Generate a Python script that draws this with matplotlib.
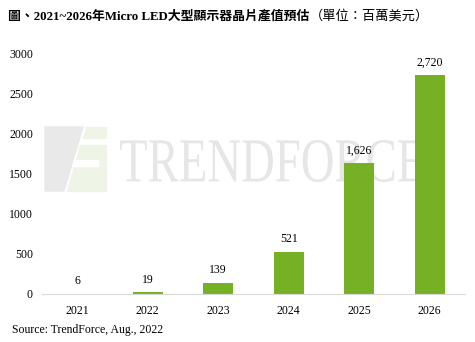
import matplotlib.pyplot as plt
from matplotlib.patches import Polygon, PathPatch
from matplotlib.textpath import TextPath
from matplotlib.font_manager import FontProperties
from matplotlib.transforms import Affine2D

# 2021~2026 Micro LED 大型顯示器晶片產值 (百萬美元)
years = ['2021', '2022', '2023', '2024', '2025', '2026']
values = [6, 19, 139, 521, 1626, 2720]
labels = ['6', '19', '139', '521', '1,626', '2,720']
yticks = [0, 500, 1000, 1500, 2000, 2500, 3000]

serif = ['Liberation Serif', 'Noto Sans CJK TC']
bar_color = '#76b025'
W, H = 475, 342

fig = plt.figure(figsize=(W / 100, H / 100), dpi=100)
ax = fig.add_axes([42 / W, 1 - 294 / H, 423 / W, 241 / H])
ax.set_zorder(2)


def px(pts):
    # 像素座標(左上為原點) -> figure 座標
    return [[x / W, 1 - y / H] for x, y in pts]


# 浮水印 logo
logo = [
    ([(45, 127), (83, 127), (64, 191), (45, 191)], '#e9e9e9'),
    ([(86, 127), (106, 127), (106, 138), (83, 138)], '#eff5e6'),
    ([(80, 145), (106, 145), (106, 191), (67, 191)], '#eff5e6'),
]
for pts, c in logo:
    fig.patches.append(Polygon(px(pts), closed=True, transform=fig.transFigure,
                               color=c, zorder=0))
# 中間的白色橫槓
fig.patches.append(Polygon(px([(74, 160), (98, 160), (98, 166), (72, 166)]),
                           closed=True, transform=fig.transFigure,
                           color='white', zorder=0.5))

# TRENDFORCE 字樣 (壓扁的襯線字)
tp = TextPath((0, 0), 'TRENDFORCE', size=10,
              prop=FontProperties(family='Liberation Serif'))
ext = tp.get_extents()
x0, x1, top, base = 120, 423, 140, 182
sx = (x1 - x0) / ext.width / W
sy = (base - top) / ext.height / H
tr = Affine2D().translate(-ext.x0, -ext.y0).scale(sx, sy).translate(x0 / W, 1 - base / H)
fig.patches.append(PathPatch(tr.transform_path(tp), transform=fig.transFigure,
                             color='#e6e6e6', lw=0, zorder=0))

x = list(range(len(years)))
ax.bar(x, values, width=0.43, color=bar_color, zorder=2)
for xi, v, lab in zip(x, values, labels):
    ax.annotate(lab, (xi, v), xytext=(0, 5), textcoords='offset points',
                ha='center', va='bottom', fontsize=8.5, family=serif, zorder=3)

ax.set_xlim(-0.5, 5.5)
ax.set_ylim(0, 3000)
ax.set_xticks(x)
ax.set_xticklabels(years, family=serif, fontsize=8.5)
ax.set_yticks(yticks)
ax.set_yticklabels([str(t) for t in yticks], family=serif, fontsize=8.5)
ax.tick_params(axis='x', length=0, pad=8)
ax.tick_params(axis='y', length=0, pad=6.5)
ax.patch.set_alpha(0)
for s in ['top', 'right', 'left']:
    ax.spines[s].set_visible(False)
ax.spines['bottom'].set_color('#d9d9d9')

t1 = fig.text(8 / W, 1 - 16 / H, '圖、2021~2026年Micro LED大型顯示器晶片產值預估',
              fontsize=9.3, fontweight='bold', family=serif, va='center')
ax.annotate('（單位：百萬美元）', xy=(1, 0.5), xycoords=t1, xytext=(0, 0),
            textcoords='offset points', va='center', ha='left',
            fontsize=9.5, family=serif, annotation_clip=False)
fig.text(12 / W, 1 - 330 / H, 'Source: TrendForce, Aug., 2022', fontsize=8.5,
         family=serif, va='center')

fig.savefig('out.png', dpi=100)
